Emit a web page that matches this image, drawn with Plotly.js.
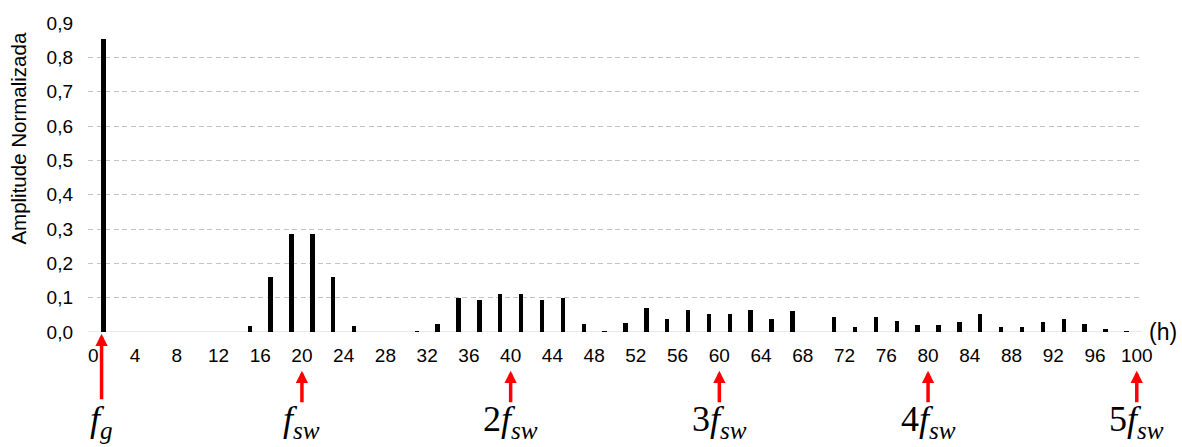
<!DOCTYPE html>
<html>
<head>
<meta charset="utf-8">
<script src="https://cdn.plot.ly/plotly-3.0.1.min.js"></script>
<style>
  html, body { margin: 0; padding: 0; background: #ffffff; }
  #chart { width: 1182px; height: 447px; }
</style>
</head>
<body>
<div id="chart"></div>
<script>
// Harmonic orders (odd harmonics only)
const harmonics = [1, 3, 5, 7, 9, 11, 13, 15, 17, 19, 21, 23, 25, 27, 29, 31, 33, 35, 37, 39,
                   41, 43, 45, 47, 49, 51, 53, 55, 57, 59, 61, 63, 65, 67, 69, 71, 73, 75, 77, 79,
                   81, 83, 85, 87, 89, 91, 93, 95, 97, 99];
// Normalised amplitude of each harmonic
const amplitudes = [0.853, 0, 0, 0, 0, 0, 0, 0.018, 0.160, 0.286, 0.286, 0.160, 0.018, 0, 0, 0.004, 0.024, 0.099, 0.094, 0.111,
                    0.111, 0.094, 0.099, 0.024, 0.004, 0.027, 0.069, 0.039, 0.063, 0.051, 0.051, 0.063, 0.038, 0.060, 0, 0.045, 0.014, 0.043, 0.032, 0.020,
                    0.020, 0.029, 0.053, 0.015, 0.015, 0.030, 0.038, 0.023, 0.010, 0.003];

// X tick labels (every 4th harmonic)
const xTicks = [0, 4, 8, 12, 16, 20, 24, 28, 32, 36, 40, 44, 48, 52, 56, 60, 64, 68, 72, 76, 80, 84, 88, 92, 96, 100];
const yTicks = [0, 0.1, 0.2, 0.3, 0.4, 0.5, 0.6, 0.7, 0.8, 0.9];

// Frequency markers below the axis
const markerPos = [0.8, 20, 40, 60, 80, 100];
const markerText = ['<i>f<sub>g</sub></i>', '<i>f<sub>sw</sub></i>', '2<i>f<sub>sw</sub></i>',
                    '3<i>f<sub>sw</sub></i>', '4<i>f<sub>sw</sub></i>', '5<i>f<sub>sw</sub></i>'];

const trace = {
  type: 'bar',
  x: harmonics,
  y: amplitudes,
  width: 0.42,
  marker: { color: '#000000' },
  hoverinfo: 'x+y'
};

const annotations = [];
markerPos.forEach((pos, i) => {
  const isFund = i === 0;
  // red arrow pointing up at the axis
  annotations.push({
    x: pos, xref: 'x',
    y: isFund ? -0.006 : -0.125, yref: 'paper',
    ax: 0, ay: isFund ? 67 : 33,
    text: '',
    showarrow: true,
    arrowhead: 2, arrowsize: 0.7, arrowwidth: 3.5,
    arrowcolor: '#ff0000',
    standoff: 0
  });
  // label under the arrow
  annotations.push({
    x: pos, xref: 'x',
    y: -0.368, yref: 'paper',
    xanchor: 'center', yanchor: 'bottom',
    text: markerText[i],
    showarrow: false,
    font: { family: 'Liberation Serif, DejaVu Serif, serif', size: 36, color: '#000000' }
  });
});
// harmonic order unit at the end of the axis
annotations.push({
  x: 1.005, xref: 'paper', y: 0, yref: 'y',
  xanchor: 'left', yanchor: 'middle',
  text: '(h)', showarrow: false,
  font: { family: 'Arial, Liberation Sans, sans-serif', size: 23, color: '#000000' }
});
// vertical axis caption
annotations.push({
  x: -0.0655, xref: 'paper', y: 0.629, yref: 'paper',
  xanchor: 'center', yanchor: 'middle',
  text: 'Amplitude Normalizada', textangle: -90, showarrow: false,
  font: { family: 'Arial, Liberation Sans, sans-serif', size: 20.5, color: '#000000' }
});

const layout = {
  width: 1182, height: 447,
  margin: { l: 88, r: 40, t: 23, b: 115 },
  paper_bgcolor: '#ffffff', plot_bgcolor: '#ffffff',
  separators: ',.',
  showlegend: false,
  bargap: 0,
  font: { family: 'Arial, Liberation Sans, sans-serif', color: '#000000' },
  xaxis: {
    range: [-0.5, 100.5],
    tickmode: 'array', tickvals: xTicks,
    ticks: '', showgrid: false, zeroline: false, showline: false,
    ticklabelstandoff: 10,
    tickfont: { size: 19, color: '#000000' },
    fixedrange: true
  },
  yaxis: {
    range: [0, 0.9],
    tickmode: 'array', tickvals: yTicks, tickformat: '.1f',
    ticks: '', zeroline: false, showline: false,
    showgrid: true, gridcolor: '#c4c4c4', gridwidth: 1, griddash: '5px,3.5px',
    ticklabelstandoff: 14,
    tickfont: { size: 19, color: '#000000' },
    fixedrange: true
  },
  shapes: [{
    type: 'line', layer: 'below',
    xref: 'paper', x0: 0, x1: 1,
    yref: 'y', y0: 0, y1: 0,
    line: { color: '#e0e0e0', width: 1.5 }
  }],
  annotations: annotations
};

Plotly.newPlot('chart', [trace], layout, { displayModeBar: false, staticPlot: true });
</script>
</body>
</html>
